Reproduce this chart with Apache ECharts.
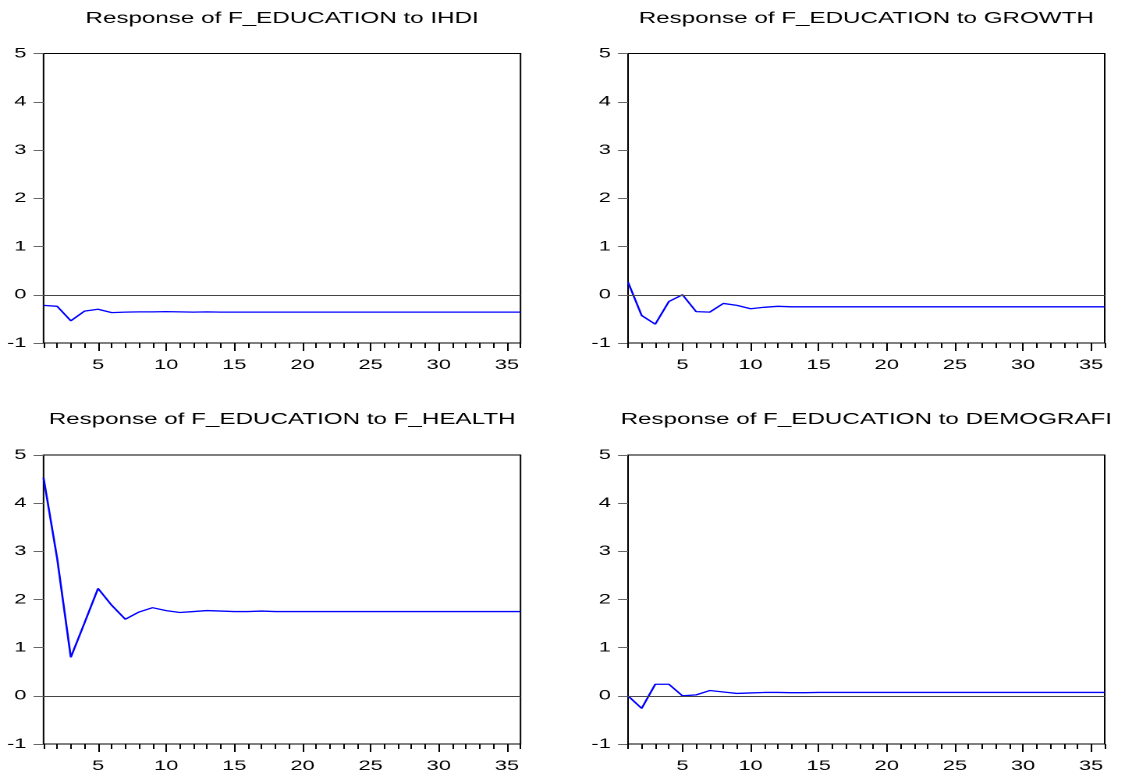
<!DOCTYPE html>
<html>
<head>
<meta charset="utf-8">
<script src="https://cdn.jsdelivr.net/npm/echarts@6.0.0/dist/echarts.min.js"></script>
<style>
html,body{margin:0;padding:0;background:#fff;overflow:hidden;}
#chart{width:721px;height:776px;transform:scaleX(1.5603);transform-origin:0 0;}
</style>
</head>
<body>
<div id="chart"></div>
<script>
var periods = [1,2,3,4,5,6,7,8,9,10,11,12,13,14,15,16,17,18,19,20,21,22,23,24,25,26,27,28,29,30,31,32,33,34,35,36];
var xTickLabels = [5,10,15,20,25,30,35];
var yTickLabels = [-1,0,1,2,3,4,5];
var titles = [
  'Response of F_EDUCATION to IHDI',
  'Response of F_EDUCATION to GROWTH',
  'Response of F_EDUCATION to F_HEALTH',
  'Response of F_EDUCATION to DEMOGRAFI'
];
var respIHDI = [-0.22,-0.24,-0.54,-0.34,-0.30,-0.37,-0.36,-0.355,-0.355,-0.35,-0.355,-0.36,-0.355,-0.36,-0.36,-0.36,-0.36,-0.36,-0.36,-0.36,-0.36,-0.36,-0.36,-0.36,-0.36,-0.36,-0.36,-0.36,-0.36,-0.36,-0.36,-0.36,-0.36,-0.36,-0.36,-0.36];
var respGROWTH = [0.26,-0.43,-0.61,-0.14,0.00,-0.35,-0.36,-0.18,-0.22,-0.29,-0.26,-0.24,-0.25,-0.25,-0.25,-0.25,-0.25,-0.25,-0.25,-0.25,-0.25,-0.25,-0.25,-0.25,-0.25,-0.25,-0.25,-0.25,-0.25,-0.25,-0.25,-0.25,-0.25,-0.25,-0.25,-0.25];
var respHEALTH = [4.53,2.85,0.80,1.51,2.23,1.88,1.59,1.74,1.83,1.77,1.73,1.75,1.77,1.76,1.75,1.75,1.76,1.75,1.75,1.75,1.75,1.75,1.75,1.75,1.75,1.75,1.75,1.75,1.75,1.75,1.75,1.75,1.75,1.75,1.75,1.75];
var respDEMOGRAFI = [0.00,-0.26,0.24,0.24,0.00,0.02,0.11,0.08,0.05,0.06,0.07,0.07,0.065,0.065,0.07,0.07,0.07,0.07,0.07,0.07,0.07,0.07,0.07,0.07,0.07,0.07,0.07,0.07,0.07,0.07,0.07,0.07,0.07,0.07,0.07,0.07];

var seriesValues = [respIHDI, respGROWTH, respHEALTH, respDEMOGRAFI];

var FONT = '"Liberation Sans", Arial, sans-serif';
var grids = [
  {left: 27.9, top: 53.5, width: 305.7, height: 289.5},
  {left: 402.5, top: 53.5, width: 305.5, height: 289.5},
  {left: 27.9, top: 455, width: 305.7, height: 289},
  {left: 402.5, top: 455, width: 305.5, height: 289}
];
var titleCenters = [[180.8, 10.5], [555.2, 10.5], [180.8, 411.5], [555.2, 411.5]];

var option = {
  animation: false,
  backgroundColor: '#fff',
  title: titles.map(function (t, i) {
    return {
      text: t, left: titleCenters[i][0], top: titleCenters[i][1], textAlign: 'center', padding: 0,
      textStyle: {fontFamily: FONT, fontSize: 15.5, fontWeight: 'normal', color: '#000'}
    };
  }),
  grid: grids.map(function (g) {
    return {left: g.left, top: g.top, width: g.width, height: g.height, show: true,
      borderColor: '#000', borderWidth: 1, backgroundColor: '#fff', containLabel: false};
  }),
  xAxis: [],
  yAxis: [],
  series: []
};

for (var i = 0; i < 4; i++) {
  // minor ticks + labels
  option.xAxis.push({
    type: 'value', gridIndex: i, min: 1, max: 36, interval: 1, position: 'bottom',
    axisLine: {show: false, onZero: false},
    axisTick: {show: true, length: 5, lineStyle: {color: '#000', width: 1}},
    axisLabel: {show: true, margin: 15, fontFamily: FONT, fontSize: 14, color: '#000',
      formatter: function (v) { return xTickLabels.indexOf(v) >= 0 ? String(v) : ''; }},
    splitLine: {show: false}
  });
  // major ticks
  option.xAxis.push({
    type: 'value', gridIndex: i, min: 1, max: 36, position: 'bottom',
    axisLine: {show: false, onZero: false},
    axisTick: {show: true, length: 8, customValues: xTickLabels, lineStyle: {color: '#000', width: 1}},
    axisLabel: {show: false},
    splitLine: {show: false}
  });
  option.yAxis.push({
    type: 'value', gridIndex: i, min: yTickLabels[0], max: yTickLabels[yTickLabels.length - 1], interval: 1,
    axisLine: {show: false, onZero: false},
    axisTick: {show: true, length: 6.4, lineStyle: {color: '#666', width: 1}},
    axisLabel: {margin: 11, fontFamily: FONT, fontSize: 14, color: '#000'},
    splitLine: {show: false}
  });
  option.series.push({
    type: 'line', xAxisIndex: i * 2, yAxisIndex: i,
    data: periods.map(function (p, k) { return [p, seriesValues[i][k]]; }),
    showSymbol: false, symbol: 'none',
    lineStyle: {color: '#0000ff', width: 1.3},
    markLine: {silent: true, symbol: 'none', label: {show: false},
      lineStyle: {color: '#444', type: 'solid', width: 1},
      data: [{yAxis: 0}]}
  });
}

var chart = echarts.init(document.getElementById('chart'), null, {devicePixelRatio: 2});
chart.setOption(option);
</script>
</body>
</html>
